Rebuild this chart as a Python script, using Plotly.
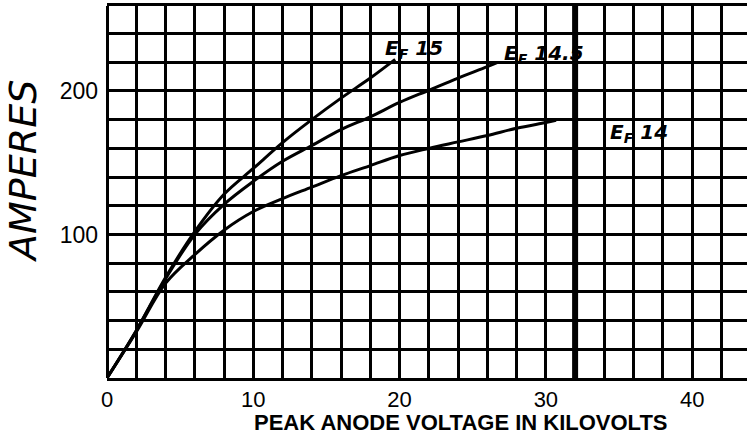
import plotly.graph_objects as go

# Curves: peak anode voltage (kV) vs amperes, for three filament voltages
x_ef15 = [0, 2, 4, 6, 8, 10, 12, 14, 16, 18, 19.7]
y_ef15 = [0, 33, 70, 102, 128, 146, 164, 180, 195, 209, 222]

x_ef145 = [0, 2, 4, 6, 8, 10, 12, 14, 16, 18, 20, 22, 24, 26, 26.7]
y_ef145 = [0, 33, 69, 100, 121, 137, 151, 162, 173, 182, 192, 200.5, 209, 217, 220]

x_ef14 = [0, 2, 4, 6, 8, 10, 12, 14, 16, 18, 20, 22, 24, 26, 28, 30, 30.7]
y_ef14 = [0, 32, 66, 86, 103, 116, 125, 133, 141, 148, 155, 160, 164.5, 169, 174, 178, 179.5]

curve_labels = ["E<sub>F</sub> 15", "E<sub>F</sub> 14.5", "E<sub>F</sub> 14"]
label_x = [21.0, 29.9, 36.4]
label_y = [229, 226, 171]

x_tickvals = [0, 10, 20, 30, 40]
x_ticktext = ["0", "10", "20", "30", "40"]
y_tickvals = [100, 200]
y_ticktext = ["100", "200"]
heavy_x = 32

x_range = [0, 43.75]
y_range = [0, 259.2]

fig = go.Figure()
for xs, ys in [(x_ef15, y_ef15), (x_ef145, y_ef145), (x_ef14, y_ef14)]:
    fig.add_trace(go.Scatter(x=xs, y=ys, mode="lines", line=dict(color="black", width=3, shape="spline"),
                             showlegend=False, hoverinfo="skip"))

for t, lx, ly in zip(curve_labels, label_x, label_y):
    fig.add_annotation(x=lx, y=ly, text="<b><i>" + t + "</i></b>", showarrow=False,
                       font=dict(family="DejaVu Sans", size=20, color="black"))

fig.add_shape(type="line", x0=heavy_x, x1=heavy_x, y0=0, y1=1, yref="paper",
              line=dict(color="black", width=6), layer="below")

# Axis titles (placed as in the original drawing)
fig.add_annotation(text="<i>AMPERES</i>", textangle=-90, xref="paper", yref="paper",
                   x=0, y=0.554, xanchor="center", yanchor="middle", xshift=-84, showarrow=False,
                   font=dict(family="DejaVu Sans", size=38, color="black"))
fig.add_annotation(text="<b>PEAK ANODE VOLTAGE IN KILOVOLTS</b>", xref="paper", yref="paper",
                   x=0.553, y=0, xanchor="center", yanchor="middle", yshift=-44, showarrow=False,
                   font=dict(family="Liberation Sans", size=22, color="black"))

fig.update_xaxes(range=x_range, tickvals=x_tickvals, ticktext=x_ticktext,
                 showgrid=True, gridcolor="black", gridwidth=3,
                 minor=dict(dtick=2, tick0=0, showgrid=True, gridcolor="black", gridwidth=3),
                 zeroline=True, zerolinecolor="black", zerolinewidth=3,
                 showline=True, linecolor="black", linewidth=3, mirror=True,
                 ticks="", ticklabelstandoff=0,
                 tickfont=dict(family="Liberation Sans", size=22, color="black"))
fig.update_yaxes(range=y_range, tickvals=y_tickvals, ticktext=y_ticktext,
                 showgrid=True, gridcolor="black", gridwidth=3,
                 minor=dict(dtick=20, tick0=0, showgrid=True, gridcolor="black", gridwidth=3),
                 zeroline=True, zerolinecolor="black", zerolinewidth=3,
                 ticks="", ticklabelstandoff=8,
                 tickfont=dict(family="Liberation Sans", size=23, color="black"))

fig.update_layout(width=747, height=440, margin=dict(l=107, r=0, t=6, b=62),
                  plot_bgcolor="white", paper_bgcolor="white")

fig.write_html("out.html", config={"displayModeBar": False},
               post_script="document.body.style.margin='0px';")
